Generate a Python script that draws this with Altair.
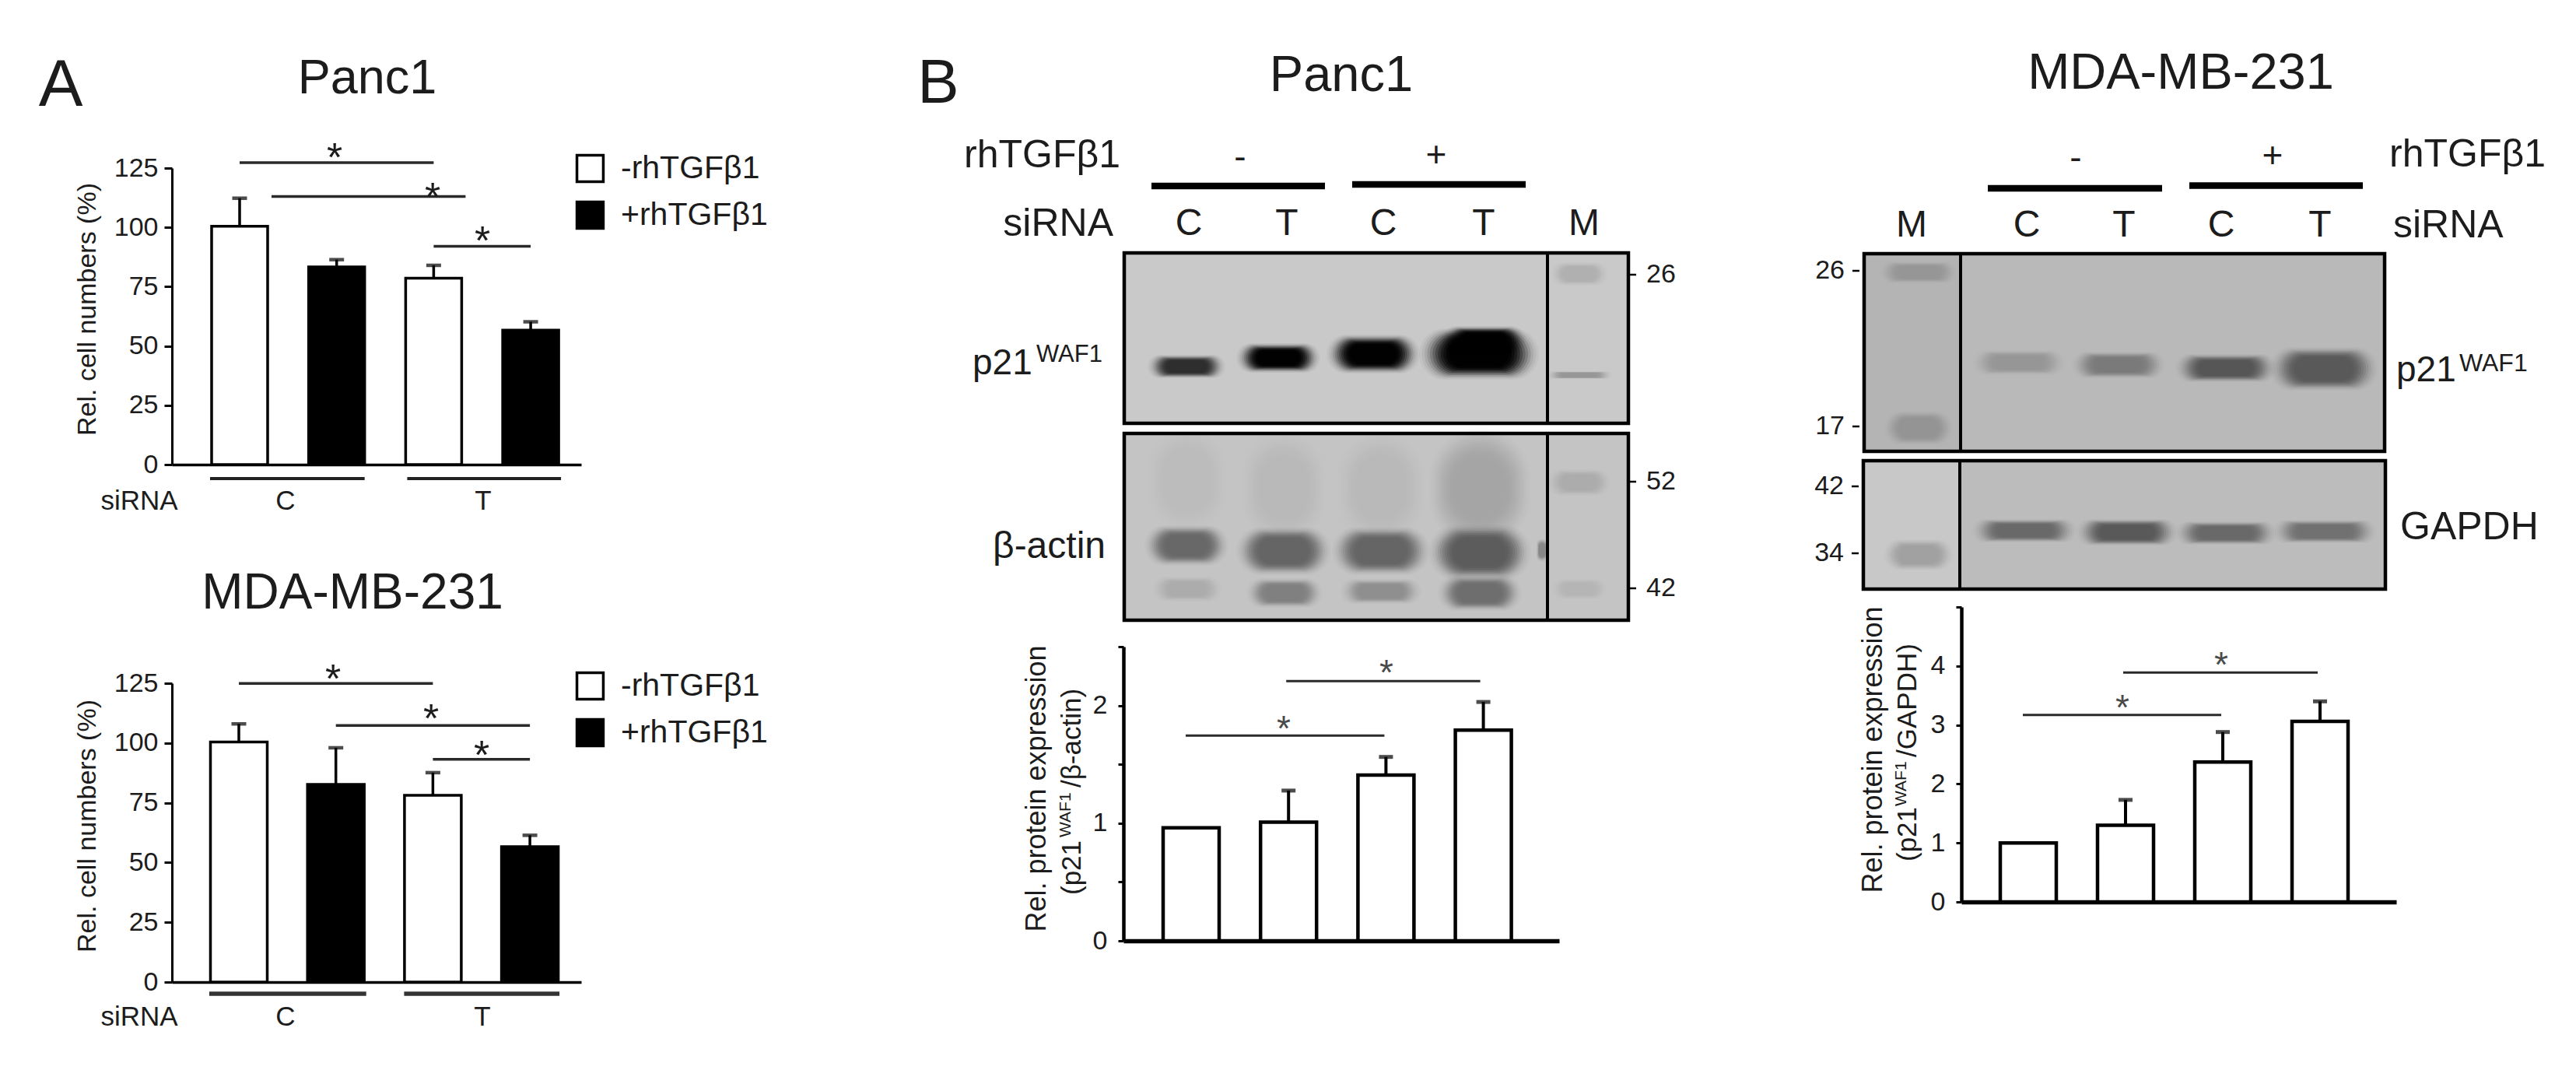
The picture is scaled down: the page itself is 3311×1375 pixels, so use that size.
import altair as alt
import pandas as pd

# ---------- page geometry ----------
M = 8
W, H = 3295, 1359
FONT = "Liberation Sans"
INK = "#1c1c1c"

# ---------- panel A data ----------
a_cats = ["C-", "C+", "T-", "T+"]
a_treat = ["-rhTGFβ1", "+rhTGFβ1", "-rhTGFβ1", "+rhTGFβ1"]
a1_vals = [100.5, 83.3, 78.6, 56.7]
a1_errs = [112.3, 86.4, 84.0, 60.2]
a1_sig_from = ["C-", "C-", "T-"]
a1_sig_to = ["T-", "T-", "T+"]
a1_sig_lvl = [127.3, 113.0, 92.0]
a2_vals = [100.4, 82.7, 78.1, 56.6]
a2_errs = [108.0, 98.0, 87.6, 61.4]
a2_sig_from = ["C-", "C+", "T-"]
a2_sig_to = ["T-", "T+", "T+"]
a2_sig_lvl = [124.9, 107.3, 93.2]
a_ticks = [0, 25, 50, 75, 100, 125]

# ---------- panel B quantification data ----------
b_cats = ["C-", "T-", "C+", "T+"]
b1_vals = [0.96, 1.008, 1.409, 1.79]
b1_errs = [0.96, 1.277, 1.563, 2.03]
b1_sig_from = ["C-", "T-"]
b1_sig_to = ["C+", "T+"]
b1_sig_lvl = [1.744, 2.208]
b1_ticks = [0, 0.5, 1, 1.5, 2, 2.5]
b2_vals = [1.0, 1.30, 2.37, 3.06]
b2_errs = [1.0, 1.73, 2.88, 3.40]
b2_sig_from = ["C-", "T-"]
b2_sig_to = ["C+", "T+"]
b2_sig_lvl = [3.17, 3.89]
b2_ticks = [0, 1, 2, 3, 4, 5]

# ---------- blots: band position in gel units, size, grey level ----------
p_top_cx = [80, 198, 320, 456, 462, 585, 585]
p_top_cy = [146, 135, 130, 130, 112, 27, 157]
p_top_w = [100, 108, 120, 154, 108, 72, 84]
p_top_h = [30, 38, 50, 66, 36, 30, 10]
p_top_g = [45, 0, 0, 0, 0, 175, 150]

p_bot_cx = [81, 205, 330, 457, 80, 205, 330, 457, 81, 206, 330, 457, 585, 585, 537]
p_bot_cy = [60, 70, 70, 70, 144, 151, 151, 153, 200, 205, 203, 205, 63, 200, 150]
p_bot_w = [100, 105, 110, 130, 108, 122, 126, 132, 88, 98, 104, 108, 80, 70, 14]
p_bot_h = [130, 140, 140, 155, 52, 62, 62, 72, 32, 38, 32, 46, 34, 26, 30]
p_bot_g = [188, 184, 184, 165, 104, 100, 100, 92, 172, 128, 142, 110, 172, 182, 135]

m_top_cx = [199, 327, 465, 591, 70, 70]
m_top_cy = [140, 143, 147, 148, 24, 224]
m_top_w = [120, 120, 130, 140, 100, 90]
m_top_h = [32, 34, 36, 56, 28, 44]
m_top_g = [150, 122, 85, 88, 150, 148]

m_bot_cx = [207, 339, 466, 593, 71]
m_bot_cy = [90, 92, 93, 91, 121]
m_bot_w = [134, 130, 130, 134, 90]
m_bot_h = [30, 34, 30, 30, 40]
m_bot_g = [105, 88, 105, 112, 160]

lane_labels = ["C", "T", "C", "T", "M"]
p_lane_x = [83, 209, 333, 462, 591]
m_lane_labels = ["M", "C", "T", "C", "T"]
m_lane_x = [61, 209, 334, 459, 586]
p_top_mw, p_top_mw_y = ["26"], [28]
p_bot_mw, p_bot_mw_y = ["52", "42"], [62, 199]
m_top_mw, m_top_mw_y = ["26", "17"], [22, 222]
m_bot_mw, m_bot_mw_y = ["42", "34"], [33, 119]

# soft band edge: nested pills, outer to inner size and cumulative darkness
PILL_SCALE = [1.0, 0.955, 0.91, 0.865, 0.82, 0.775, 0.73, 0.685, 0.64, 0.595, 0.55, 0.5]
PILL_CUM = [0.03, 0.08, 0.15, 0.25, 0.37, 0.5, 0.63, 0.75, 0.85, 0.92, 0.97, 0.99]


def label(text, x, y, size, align="center", angle=0, color=INK):
    """Free-standing annotation, placed by page pixel."""
    return alt.Chart().mark_text(
        text=text, font=FONT, fontSize=size, align=align, baseline="middle",
        angle=angle, color=color,
    ).encode(x=alt.value(x - M), y=alt.value(y - M))


def star(x, y, size=52, color=INK):
    return label("*", x, y + 0.28 * size, size, color=color)


def bar_panel(cats, vals, errs, sig_from, sig_to, sig_lvl, ticks, ymax, geom,
              style, treat=None, legend_xy=None, label_expr=None, title=None,
              sig_off=None):
    a, e, c1, s, b, y0, ytop = geom
    p_in = 1 - b / s
    p_out = ((e - a) / s - 4 + p_in) / 2
    al = (c1 - b / 2 - a) / ((e - a) - (4 - p_in) * s)
    xs = alt.Scale(domain=cats, range=[a - M, e - M], paddingInner=p_in,
                   paddingOuter=p_out, align=al)
    ys = alt.Scale(domain=[0, ymax], range=[y0 - M, ytop - M], nice=False, zero=False)
    df = pd.DataFrame({"cat": cats, "val": vals, "err": errs})
    xaxis = alt.Axis(orient="bottom", offset=-(H - (y0 - M)), labels=False, ticks=False,
                     domain=True, domainColor="black", domainWidth=style["base"],
                     title=None, grid=False)
    ax_kw = dict(orient="left", offset=-(a - M), values=ticks, grid=False,
                 tickColor="black", tickWidth=style["tw"], tickSize=style["ts"],
                 domainColor="black", domainWidth=style["ax"],
                 labelFont=FONT, labelFontSize=style["lab"], labelColor=INK,
                 labelPadding=style["lp"], titleFont=FONT, titleFontSize=style["tit"],
                 titleFontWeight="normal", titleColor=INK, titleBaseline="middle",
                 titleX=style["tx"] - a, titleY=style["ty"] - M, title=title)
    if label_expr:
        ax_kw["labelExpr"] = label_expr
    yaxis = alt.Axis(**ax_kw)
    x = alt.X("cat:N", sort=cats, scale=xs, axis=xaxis, title=None)
    if treat is not None:
        df["treat"] = treat
        bars = alt.Chart(df).mark_bar(stroke="black", strokeWidth=style["bar"]).encode(
            x=x, y=alt.Y("val:Q", scale=ys, axis=yaxis),
            fill=alt.Fill("treat:N", scale=alt.Scale(domain=["-rhTGFβ1", "+rhTGFβ1"],
                                                    range=["white", "black"]),
                          legend=alt.Legend(orient="none", legendX=legend_xy[0] - M,
                                            legendY=legend_xy[1] - M, title=None,
                                            symbolType="square", symbolSize=1150,
                                            symbolStrokeColor="black", symbolStrokeWidth=3.5,
                                            labelFont=FONT, labelFontSize=41, labelColor=INK,
                                            labelLimit=0, labelOffset=19, rowPadding=11)),
        )
    else:
        bars = alt.Chart(df).mark_bar(fill="white", stroke="black", strokeWidth=style["bar"]).encode(
            x=x, y=alt.Y("val:Q", scale=ys, axis=yaxis),
        )
    # same axis objects on every layer so that the shared axis merges cleanly
    y_val = alt.Y("val:Q", scale=ys, axis=yaxis)
    ed = df[df["err"] > df["val"]]
    stems = alt.Chart(ed).mark_rule(color="black", strokeWidth=style["err"]).encode(
        x=x, y=y_val, y2="err:Q")
    caps = alt.Chart(ed).mark_tick(color="black", size=style["cap"], thickness=style["err"] + 1,
                                   orient="horizontal").encode(
        x=x, y=alt.Y("err:Q", scale=ys, axis=yaxis))
    layers = [bars, stems, caps]
    offs = sig_off or [(0, 0)] * len(sig_from)
    for f, t, lvl, (o1, o2) in zip(sig_from, sig_to, sig_lvl, offs):
        sd = pd.DataFrame({"cat": [f], "to": [t], "lvl": [lvl]})
        layers.append(alt.Chart(sd).mark_rule(color="#2a2a2a", strokeWidth=style["sig"],
                                              xOffset=o1, x2Offset=o2).encode(
            x=x, x2="to:N", y=alt.Y("lvl:Q", scale=ys, axis=yaxis)))
    return layers, x


def pill_rows(c, d, bw, bh):
    rows, prev = [], 0.0
    for sc, cum in zip(PILL_SCALE, PILL_CUM):
        rows.append({"a": c - bw * sc / 2, "b": c + bw * sc / 2,
                     "t": d - bh * sc / 2, "u": d + bh * sc / 2,
                     "op": 1 - (1 - cum) / (1 - prev)})
        prev = cum
    return pd.DataFrame(rows)


def blot(x0, y0, w, h, parts, div, cx, cy, bw, bh, gr, mw, mw_y, mw_side):
    gx = alt.Scale(domain=[0, w], range=[x0 - M, x0 + w - M], nice=False, zero=False)
    gy = alt.Scale(domain=[0, h], range=[y0 - M, y0 + h - M], nice=False, zero=False)
    X = lambda f: alt.X(f, scale=gx, axis=None, title=None)
    Y = lambda f: alt.Y(f, scale=gy, axis=None, title=None)
    out = []
    for a, b, col in parts:
        out.append(alt.Chart(pd.DataFrame({"a": [a], "b": [b], "t": [0], "u": [h]})).mark_rect(fill=col).encode(
            x=X("a:Q"), x2="b:Q", y=Y("t:Q"), y2="u:Q"))
    for c, d, bwi, bhi, g in zip(cx, cy, bw, bh, gr):
        out.append(alt.Chart(pill_rows(c, d, bwi, bhi)).mark_rect(
            fill=f"rgb({g},{g},{g})", cornerRadius=400).encode(
            x=X("a:Q"), x2="b:Q", y=Y("t:Q"), y2="u:Q",
            opacity=alt.Opacity("op:Q", scale=None, legend=None)))
    out.append(alt.Chart(pd.DataFrame({"d": [div], "t": [0], "u": [h]})).mark_rule(color="black", strokeWidth=4).encode(
        x=X("d:Q"), y=Y("t:Q"), y2="u:Q"))
    out.append(alt.Chart(pd.DataFrame({"a": [0], "b": [w], "t": [0], "u": [h]})).mark_rect(
        filled=False, stroke="black", strokeWidth=4.5).encode(
        x=X("a:Q"), x2="b:Q", y=Y("t:Q"), y2="u:Q"))
    if mw_side == "right":
        t1, t2, tx, al = w + 1, w + 10, w + 23, "left"
    else:
        t1, t2, tx, al = -15, -6, -25, "right"
    md = pd.DataFrame({"lab": mw, "pos": mw_y, "t1": [t1] * len(mw), "t2": [t2] * len(mw), "tx": [tx] * len(mw)})
    out.append(alt.Chart(md).mark_rule(color="black", strokeWidth=2.5).encode(
        x=X("t1:Q"), x2="t2:Q", y=Y("pos:Q")))
    out.append(alt.Chart(md).mark_text(font=FONT, fontSize=34, align=al, baseline="middle", color=INK).encode(
        x=X("tx:Q"), y=Y("pos:Q"), text="lab:N"))
    return out, X, Y


def header(X, Y, lanes, lane_x, lane_y, h_x1, h_x2, h_y):
    ld = pd.DataFrame({"lab": lanes, "pos": lane_x, "yy": [lane_y] * len(lanes)})
    out = [alt.Chart(ld).mark_text(font=FONT, fontSize=48, align="center", baseline="middle", color=INK).encode(
        x=X("pos:Q"), y=Y("yy:Q"), text="lab:N")]
    hd = pd.DataFrame({"a": h_x1, "b": h_x2, "yy": h_y})
    out.append(alt.Chart(hd).mark_rule(color="black", strokeWidth=8.5).encode(
        x=X("a:Q"), x2="b:Q", y=Y("yy:Q")))
    return out


style_a = dict(base=3.5, ax=3, tw=3, ts=10, lab=34, lp=8, tit=34, bar=3.5, err=3.5, cap=19, sig=3.5)
style_b = dict(base=5.5, ax=4.5, tw=3, ts=7, lab=34, lp=14, tit=36, bar=4.5, err=4, cap=18, sig=3)

# Panel A, Panc1
l_a1, xn1 = bar_panel(
    a_cats, a1_vals, a1_errs, a1_sig_from, a1_sig_to, a1_sig_lvl, a_ticks, 125,
    (221, 747, 308, 124.7, 72, 597, 216), {**style_a, "tx": 112, "ty": 397},
    treat=a_treat, legend_xy=(738, 196), title="Rel. cell numbers (%)",
    sig_off=[(0, 0), (41, 41), (0, 0)])
l_a1 += [
    alt.Chart(pd.DataFrame({"cat": ["C-"], "to": ["C+"]})).mark_rule(color="#222", strokeWidth=4, xOffset=-38, x2Offset=36).encode(x=xn1, x2="to:N", y=alt.value(615 - M)),
    alt.Chart(pd.DataFrame({"cat": ["T-"], "to": ["T+"]})).mark_rule(color="#222", strokeWidth=4, xOffset=-34, x2Offset=39).encode(x=xn1, x2="to:N", y=alt.value(615 - M)),
]
# Panel A, MDA-MB-231
l_a2, xn2 = bar_panel(
    a_cats, a2_vals, a2_errs, a2_sig_from, a2_sig_to, a2_sig_lvl, a_ticks, 125,
    (221, 747, 307, 124.7, 73, 1262, 878), {**style_a, "tx": 112, "ty": 1061},
    treat=a_treat, legend_xy=(738, 861), title="Rel. cell numbers (%)")
l_a2 += [
    alt.Chart(pd.DataFrame({"cat": ["C-"], "to": ["C+"]})).mark_rule(color="#333", strokeWidth=5.5, xOffset=-38, x2Offset=39).encode(x=xn2, x2="to:N", y=alt.value(1277 - M)),
    alt.Chart(pd.DataFrame({"cat": ["T-"], "to": ["T+"]})).mark_rule(color="#333", strokeWidth=5.5, xOffset=-37, x2Offset=38).encode(x=xn2, x2="to:N", y=alt.value(1277 - M)),
]
# Panel B quantifications
l_b1, _ = bar_panel(
    b_cats, b1_vals, b1_errs, b1_sig_from, b1_sig_to, b1_sig_lvl, b1_ticks, 2.5,
    (1444, 2004, 1531, 125.2, 72, 1209, 831), {**style_b, "tx": 1332, "ty": 1013},
    label_expr="datum.value % 1 === 0 ? format(datum.value, 'd') : ''", title="Rel. protein expression",
    sig_off=[(-7, -2), (-3, -4)])
l_b2, _ = bar_panel(
    b_cats, b2_vals, b2_errs, b2_sig_from, b2_sig_to, b2_sig_lvl, b2_ticks, 5,
    (2521, 3080, 2607, 125, 72, 1159, 780), {**style_b, "tx": 2407, "ty": 963},
    label_expr="datum.value < 5 ? datum.label : ''", title="Rel. protein expression",
    sig_off=[(-7, -2), (-3, -3)])

# Blots
bp1, Xp, Yp = blot(1445, 325, 648, 219, [(0, 648, "#c9c9c9")], 544, p_top_cx, p_top_cy, p_top_w, p_top_h, p_top_g,
                   p_top_mw, p_top_mw_y, "right")
bp1 += header(Xp, Yp, lane_labels, p_lane_x, -37, [35, 293], [258, 516], [-86, -88])
bp2, _, _ = blot(1445, 557, 648, 240, [(0, 648, "#c4c4c4")], 544, p_bot_cx, p_bot_cy, p_bot_w, p_bot_h, p_bot_g,
                 p_bot_mw, p_bot_mw_y, "right")
bm1, Xm, Ym = blot(2396, 326, 669, 254, [(0, 124, "#b4b4b4"), (124, 669, "#b9b9b9")], 124, m_top_cx, m_top_cy, m_top_w, m_top_h, m_top_g,
                   m_top_mw, m_top_mw_y, "left")
bm1 += header(Xm, Ym, m_lane_labels, m_lane_x, -36, [159, 418], [383, 641], [-84, -87.5])
bm2, _, _ = blot(2395, 592, 671, 165, [(0, 124, "#c8c8c8"), (124, 671, "#bcbcbc")], 124, m_bot_cx, m_bot_cy, m_bot_w, m_bot_h, m_bot_g,
                 m_bot_mw, m_bot_mw_y, "left")

notes = [
    label("A", 78, 110, 85),
    label("B", 1206, 108, 80),
    label("Panc1", 472, 101, 63),
    label("MDA-MB-231", 453, 763, 64),
    label("Panc1", 1724, 97, 65),
    label("MDA-MB-231", 2803, 94, 65),
    label("siRNA", 179, 644, 35), label("C", 367, 644, 35), label("T", 621, 644, 35),
    label("siRNA", 179, 1307, 35), label("C", 367, 1307, 35), label("T", 620, 1307, 35),
    star(430, 189), star(556, 240), star(620, 296),
    star(428, 859), star(554, 910), star(619, 957),
    star(1650, 925, 46, "#4a4a4a"), star(1782, 853, 46, "#4a4a4a"),
    star(2728, 898, 46, "#4a4a4a"), star(2855, 843, 46, "#4a4a4a"),
    label("rhTGFβ1", 1440, 200, 50, align="right"),
    label("-", 1594, 203, 46), label("+", 1846, 200, 46),
    label("siRNA", 1431, 288, 50, align="right"),
    label("p21", 1250, 467, 46, align="left"), label("WAF1", 1332, 456, 31, align="left"),
    label("β-actin", 1421, 703, 48, align="right"),
    label("rhTGFβ1", 3071, 199, 50, align="left"),
    label("-", 2668, 204, 46), label("+", 2921, 201, 46),
    label("siRNA", 3076, 290, 50, align="left"),
    label("p21", 3080, 476, 46, align="left"), label("WAF1", 3161, 467, 32, align="left"),
    label("GAPDH", 3085, 678, 50, align="left"),
    # second line of the rotated axis titles
    label("(p21", 1378, 1150, 35, align="left", angle=270),
    label("WAF1", 1370, 1076, 21, align="left", angle=270),
    label("/β-actin)", 1378, 1012, 35, align="left", angle=270),
    label("(p21", 2452, 1107, 35, align="left", angle=270),
    label("WAF1", 2444, 1036, 21, align="left", angle=270),
    label("/GAPDH)", 2452, 973, 35, align="left", angle=270),
]

panels = [alt.layer(*group) for group in (l_a1, l_a2, l_b1, l_b2, bp1, bp2, bm1, bm2)]

chart = alt.layer(*panels, *notes).resolve_scale(
    x="independent", y="independent", fill="independent", opacity="independent"
).properties(
    width=W, height=H, padding=0, background="white",
    autosize=alt.AutoSizeParams(type="none"),
).configure_view(stroke=None)

chart.save("out.html", embed_options={"renderer": "svg", "actions": False})
